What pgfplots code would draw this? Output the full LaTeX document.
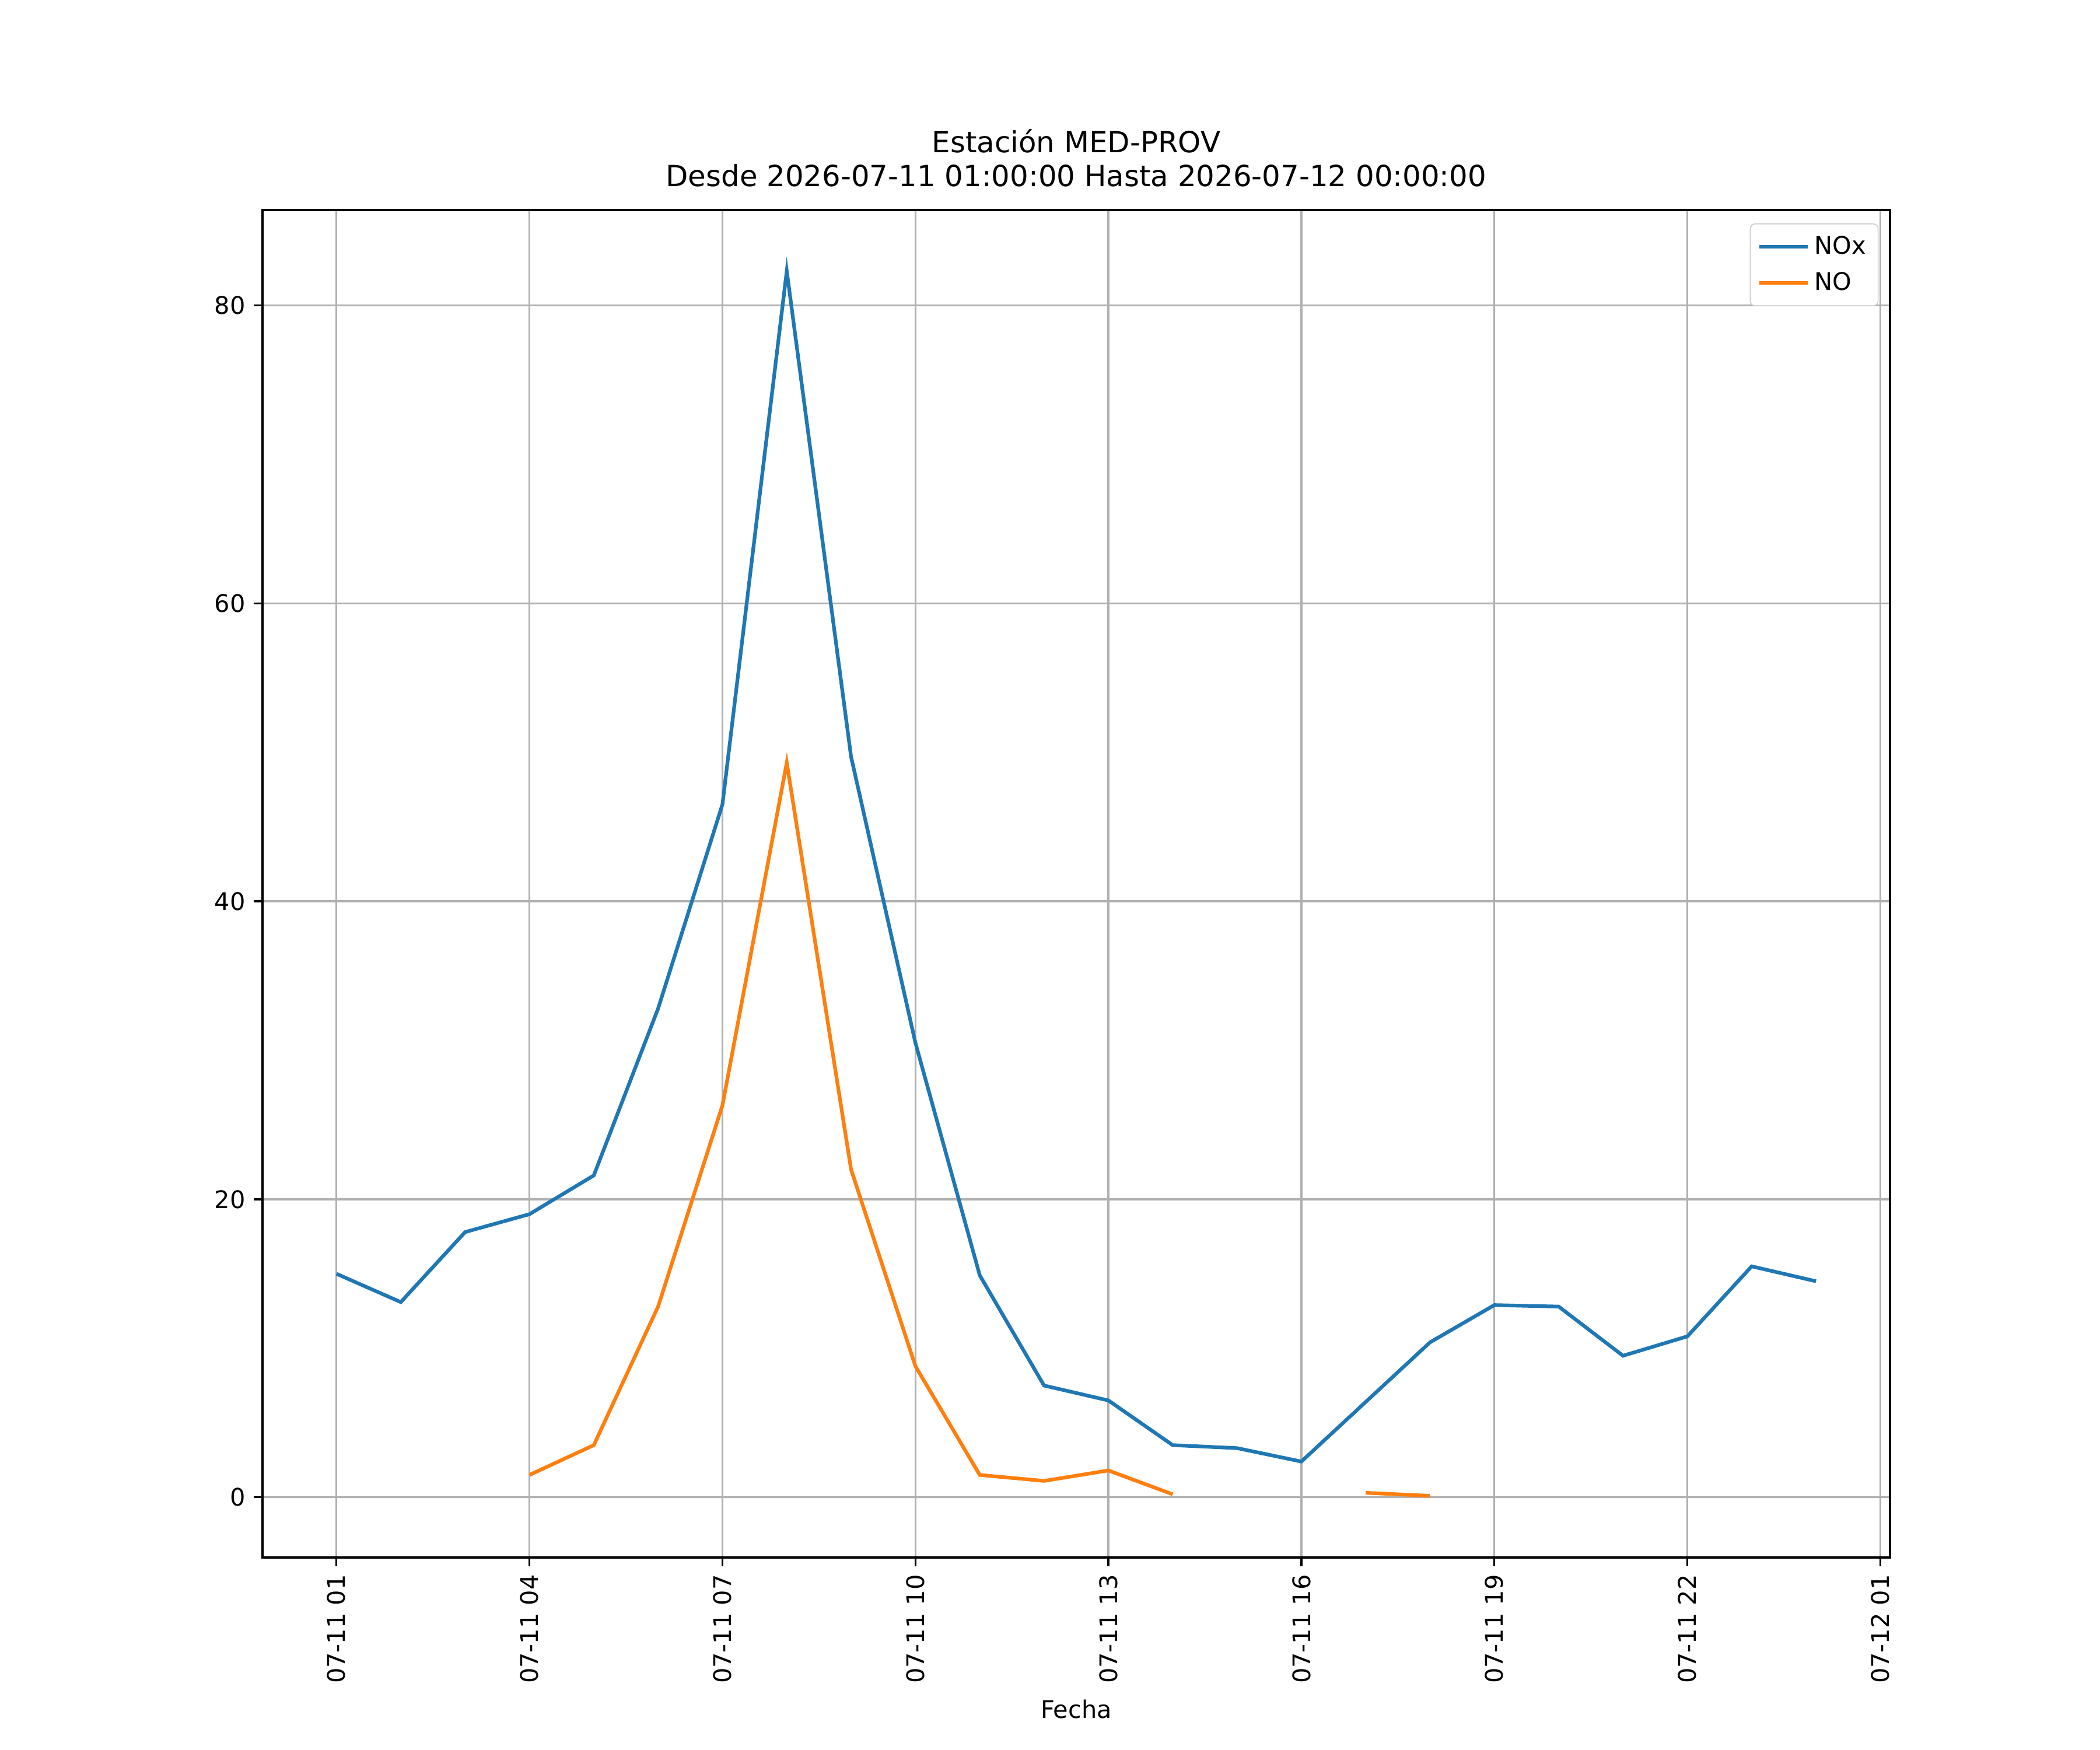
\documentclass[border=0pt]{standalone}
\usepackage{pgfplots}
\pgfplotsset{compat=1.18}
\usepackage{fontspec}
\setmainfont{DejaVu Sans}
\definecolor{c0}{HTML}{1F77B4}
\definecolor{c1}{HTML}{FF7F0E}
\begin{document}
\begin{tikzpicture}
\path[use as bounding box] (0,0) rectangle (867.24pt,722.7pt);
\begin{axis}[at={(108.4pt,79.5pt)}, anchor=south west,
 width=672.1pt, height=556.5pt, scale only axis,
 xmin=-0.15, xmax=25.15, ymin=-4.04, ymax=86.4,
 xtick={1,4,7,10,13,16,19,22,25},
 xticklabels={07-11 01,07-11 04,07-11 07,07-11 10,07-11 13,07-11 16,07-11 19,07-11 22,07-12 01},
 xticklabel style={rotate=90,anchor=east},
 ytick={0,20,40,60,80},
 /pgf/number format/assume math mode=true,
 tick style={black,line width=0.8pt}, tick align=outside, major tick length=3.5pt,
 xtick pos=bottom, ytick pos=left,
 grid=major, grid style={color=black!31,line width=0.8pt},
 axis line style={line width=0.8pt},
 font=\fontsize{10}{12}\selectfont,
 xlabel={Fecha},
 title={Estación MED-PROV\\Desde 2026-07-11 01:00:00 Hasta 2026-07-12 00:00:00},
 title style={align=center,font=\fontsize{12}{14}\selectfont},
 unbounded coords=jump,
 legend cell align=left,
 legend image code/.code={\draw[#1] (0pt,0pt) -- (20pt,0pt);},
 legend style={at={(0.993,0.99)},anchor=north east,draw=black!20,rounded corners=2pt,
   font=\fontsize{10}{12}\selectfont,row sep=2pt,inner sep=3pt},
]
\addplot[c0,line width=1.5pt] coordinates {(1,15.0)(2,13.1)(3,17.8)(4,19.0)(5,21.6)(6,32.8)(7,46.5)(8,82.3)(9,49.7)(10,30.5)(11,14.9)(12,7.5)(13,6.5)(14,3.5)(15,3.3)(16,2.4)(17,6.4)(18,10.4)(19,12.9)(20,12.8)(21,9.5)(22,10.8)(23,15.5)(24,14.5)};
\addlegendentry{NOx}
\addplot[c1,line width=1.5pt] coordinates {(4,1.5)(5,3.5)(6,12.8)(7,26.3)(8,49.3)(9,22.0)(10,8.8)(11,1.5)(12,1.1)(13,1.8)(14,0.2)(15,nan)(16,nan)(17,0.3)(18,0.1)};
\addlegendentry{NO}
\end{axis}
\end{tikzpicture}
\end{document}
